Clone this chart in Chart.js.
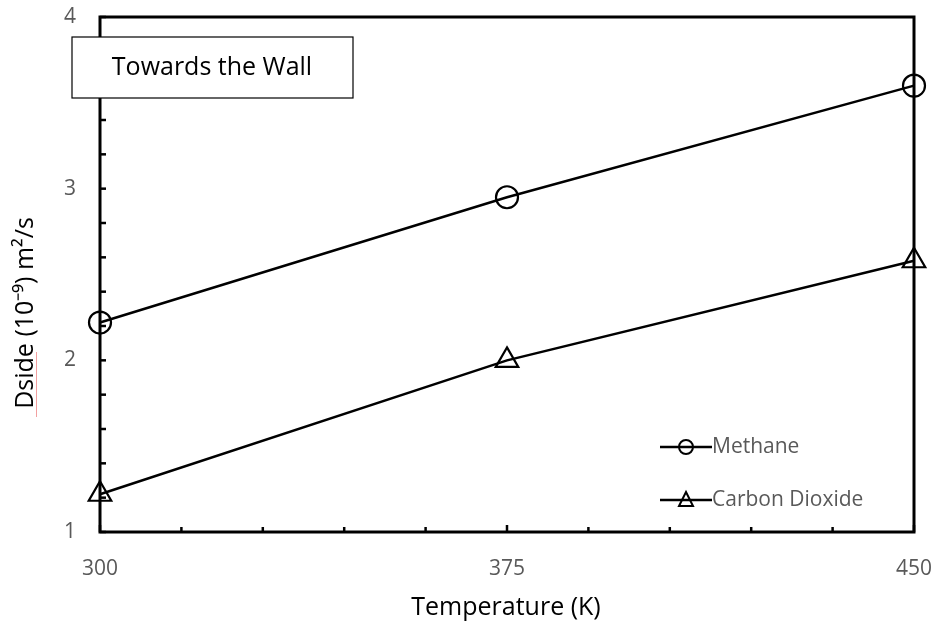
<!DOCTYPE html>
<html>
<head>
<meta charset="utf-8">
<script src="https://cdn.jsdelivr.net/npm/chart.js@4"></script>
<style>
  html, body { margin: 0; padding: 0; background: #fff; }
  #wrap { width: 940px; height: 632px; }
</style>
</head>
<body>
<div id="wrap"><canvas id="chart" width="940" height="632"></canvas></div>
<script>
// Data
const temperatures = [300, 375, 450];
const methane = [2.22, 2.95, 3.60];
const carbonDioxide = [1.22, 2.0, 2.58];
const xTickLabels = [300, 375, 450];
const yTickLabels = [1, 2, 3, 4];

const fontFamily = "'Open Sans', 'Liberation Sans', sans-serif";

// Frame, inward ticks, axis titles, text box and legend drawn on top of the chart
const decorations = {
    id: 'decorations',
    afterDraw(chart) {
        const c = chart.ctx;
        const area = chart.chartArea;
        const xs = chart.scales.x;
        const ys = chart.scales.y;

        c.save();
        c.strokeStyle = '#000';

        // inward ticks on x axis, every 15 K
        c.lineWidth = 2.5;
        for (let v = 300; v <= 450; v += 15) {
            const px = xs.getPixelForValue(v);
            c.beginPath();
            c.moveTo(px, area.bottom);
            c.lineTo(px, area.bottom - (v % 75 === 0 ? 7 : 5));
            c.stroke();
        }
        // inward ticks on y axis, every 0.2
        for (let i = 0; i <= 15; i++) {
            const py = ys.getPixelForValue(1 + i * 0.2);
            c.beginPath();
            c.moveTo(area.left, py);
            c.lineTo(area.left + 6, py);
            c.stroke();
        }

        // plot frame
        c.lineWidth = 3;
        c.strokeRect(area.left, area.top, area.right - area.left, area.bottom - area.top);

        // axis titles
        c.fillStyle = '#000';
        c.font = '25px ' + fontFamily;
        c.textAlign = 'center';
        c.textBaseline = 'middle';
        c.fillText('Temperature (K)', 506, 608);

        c.save();
        c.translate(26, 313);
        c.rotate(-Math.PI / 2);
        c.fillText('Dside (10\u207B\u2079) m\u00B2/s', 0, 0);
        c.restore();
        // faint spell-check underline under "Dside"
        c.strokeStyle = '#f2a0a0';
        c.lineWidth = 1;
        c.beginPath();
        c.moveTo(36.5, 417);
        c.lineTo(36.5, 352);
        c.stroke();
        c.strokeStyle = '#000';

        // "Towards the Wall" box
        c.fillStyle = '#fff';
        c.fillRect(72, 37, 281, 61);
        c.lineWidth = 1.2;
        c.strokeRect(72, 37, 281, 61);
        c.fillStyle = '#000';
        c.font = '25px ' + fontFamily;
        c.fillText('Towards the Wall', 212, 68);

        // legend
        const items = [
            { label: 'Methane', y: 447, style: 'circle' },
            { label: 'Carbon Dioxide', y: 500, style: 'triangle' }
        ];
        c.font = '21px ' + fontFamily;
        c.textAlign = 'left';
        items.forEach(item => {
            c.lineWidth = 2.5;
            c.beginPath();
            c.moveTo(660, item.y);
            c.lineTo(712, item.y);
            c.stroke();
            c.lineWidth = 2;
            c.beginPath();
            if (item.style === 'circle') {
                c.arc(686, item.y, 7, 0, Math.PI * 2);
            } else {
                c.moveTo(686, item.y - 8);
                c.lineTo(693, item.y + 6);
                c.lineTo(679, item.y + 6);
                c.closePath();
            }
            c.stroke();
            c.fillStyle = '#595959';
            c.fillText(item.label, 712, item.y);
        });
        c.restore();
    }
};

// stop tick labels from pushing the plot area inward
function fixScale(scale, size) {
    if (scale.isHorizontal()) {
        scale.height = size;
    } else {
        scale.width = size;
    }
    scale.paddingLeft = 0;
    scale.paddingRight = 0;
    scale.paddingTop = 0;
    scale.paddingBottom = 0;
}

const ctx = document.getElementById('chart').getContext('2d');

new Chart(ctx, {
    type: 'line',
    data: {
        datasets: [
            {
                label: 'Methane',
                data: temperatures.map((t, i) => ({ x: t, y: methane[i] })),
                borderColor: '#000',
                borderWidth: 2.5,
                pointStyle: 'circle',
                pointRadius: 11,
                pointBorderWidth: 2.2,
                pointBorderColor: '#000',
                pointBackgroundColor: 'rgba(0,0,0,0)',
                clip: false
            },
            {
                label: 'Carbon Dioxide',
                data: temperatures.map((t, i) => ({ x: t, y: carbonDioxide[i] })),
                borderColor: '#000',
                borderWidth: 2.5,
                pointStyle: 'triangle',
                pointRadius: 13,
                pointBorderWidth: 2.2,
                pointBorderColor: '#000',
                pointBackgroundColor: 'rgba(0,0,0,0)',
                clip: false
            }
        ]
    },
    options: {
        responsive: false,
        animation: false,
        layout: { padding: { left: 0, top: 17, right: 26, bottom: 0 } },
        plugins: {
            legend: { display: false },
            tooltip: { enabled: false }
        },
        scales: {
            x: {
                type: 'linear',
                min: 300,
                max: 450,
                afterBuildTicks: scale => { scale.ticks = xTickLabels.map(v => ({ value: v })); },
                afterFit: scale => fixScale(scale, 100),
                grid: { display: false, drawTicks: false },
                border: { display: false },
                ticks: {
                    color: '#595959',
                    font: { size: 21, family: fontFamily },
                    padding: 24
                }
            },
            y: {
                min: 1,
                max: 4,
                afterBuildTicks: scale => { scale.ticks = yTickLabels.map(v => ({ value: v })); },
                afterFit: scale => fixScale(scale, 100),
                grid: { display: false, drawTicks: false },
                border: { display: false },
                ticks: {
                    color: '#595959',
                    font: { size: 21, family: fontFamily },
                    padding: 24
                }
            }
        }
    },
    plugins: [decorations]
});
</script>
</body>
</html>
